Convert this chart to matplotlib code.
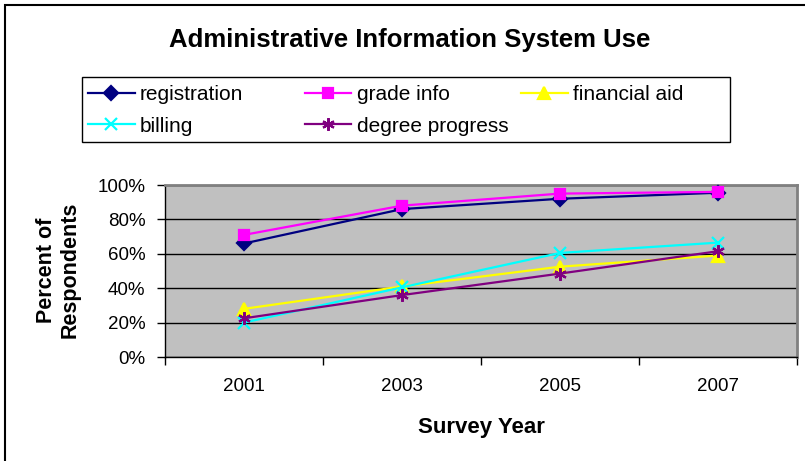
import matplotlib
matplotlib.use('Agg')
import matplotlib.pyplot as plt
from matplotlib.patches import Rectangle
from matplotlib.ticker import FixedLocator, FuncFormatter

plt.rcParams['font.family'] = ['Liberation Sans', 'DejaVu Sans']

# Data
years = ['2001', '2003', '2005', '2007']
registration = [66, 86, 92, 95.5]
grade_info = [71, 88, 95, 96]
financial_aid = [28, 41, 52.5, 59]
billing = [20, 40.5, 60.5, 66.5]
degree_progress = [22.5, 36, 48.5, 61.5]

series = [
    ('registration', registration, '#000080', 'D', 7),
    ('grade info', grade_info, '#FF00FF', 's', 7),
    ('financial aid', financial_aid, '#FFFF00', '^', 8),
    ('billing', billing, '#00FFFF', 'x', 8),
    ('degree progress', degree_progress, '#800080', (6, 2, 0), 9),
]

W, H = 805, 461
fig = plt.figure(figsize=(W / 100, H / 100), dpi=100)
ax = fig.add_axes([165 / W, 1 - 357 / H, (797 - 165) / W, (357 - 185) / H])
ax.set_facecolor('#C0C0C0')

x = list(range(len(years)))
handles = []
for name, vals, color, marker, ms in series:
    h, = ax.plot(x, vals, color=color, lw=1.6, marker=marker, markersize=ms,
                 markerfacecolor=color, markeredgecolor=color, mew=1.6, label=name,
                 clip_on=False, zorder=3)
    handles.append(h)

ax.set_xlim(-0.5, 3.5)
ax.set_ylim(0, 100)
ax.set_yticks(range(0, 101, 20))
ax.yaxis.set_major_formatter(FuncFormatter(lambda v, p: f'{int(v)}%'))
ax.grid(axis='y', color='black', lw=1, zorder=1)
ax.set_axisbelow(True)

ax.set_xticks(x)
ax.set_xticklabels(years)
ax.tick_params(axis='x', which='major', length=0, pad=15, labelsize=13.5)
ax.xaxis.set_minor_locator(FixedLocator([-0.5, 0.5, 1.5, 2.5, 3.5]))
ax.tick_params(axis='x', which='minor', length=6, width=1, direction='out', color='black')
ax.tick_params(axis='y', length=6, width=1, direction='out', pad=8, labelsize=13.5)

for side in ['top', 'right']:
    ax.spines[side].set_color('#808080')
    ax.spines[side].set_linewidth(2)
ax.spines['left'].set_color('black')
ax.spines['left'].set_linewidth(1)
ax.spines['bottom'].set_color('black')
ax.spines['bottom'].set_linewidth(1)

fig.text(481 / W, 1 - 433 / H, 'Survey Year', fontsize=16, fontweight='bold',
         ha='center', va='baseline')
fig.text(58 / W, 1 - 270 / H, 'Percent of\nRespondents', rotation=90, fontsize=15.5,
         fontweight='bold', ha='center', va='center', linespacing=1.15)

fig.text(410 / W, 1 - 47 / H, 'Administrative Information System Use', fontsize=18.5,
         fontweight='bold', ha='center', va='baseline')

# legend: frame plus three equal-width columns, filled row by row
fig.patches.append(Rectangle((82 / W, 1 - 142 / H), (730 - 82) / W, (142 - 77) / H,
                             transform=fig.transFigure, fill=False,
                             edgecolor='black', lw=1))
col_x = [88, 304.5, 521]
for c in range(3):
    col_handles = handles[c::3]
    fig.legend(handles=col_handles, loc='upper left',
               bbox_to_anchor=(col_x[c] / W, 1 - 85 / H),
               fontsize=15, frameon=False, handlelength=2.25, handletextpad=0.25,
               borderpad=0, labelspacing=0.6, borderaxespad=0)

# outer chart border (left/top visible in the crop)
fig.patches.append(Rectangle((5 / W, -0.1), 1.1, 1 - 5 / H + 0.1,
                             transform=fig.transFigure, fill=False,
                             edgecolor='black', lw=1.5))

fig.savefig('out.png', dpi=100)
